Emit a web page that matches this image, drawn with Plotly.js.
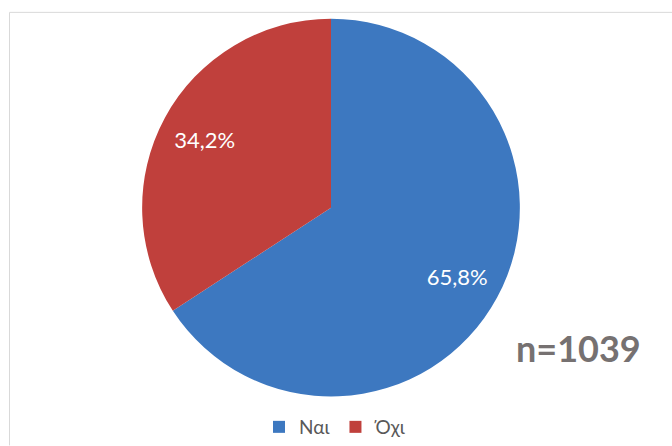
<!DOCTYPE html>
<html>
<head>
<meta charset="utf-8">
<script src="https://cdn.plot.ly/plotly-3.0.1.min.js"></script>
<style>html,body{margin:0;padding:0;background:#fff;}#chart{width:672px;height:446px;}</style>
</head>
<body>
<div id="chart"></div>
<script>
const categories = ["Ναι", "Όχι"];
const values = [65.8, 34.2];
const valueLabels = ["65,8%", "34,2%"];
const sampleNote = "n=1039";
const colors = ["#3d78c0", "#c0403c"];

const pieDomain = {x: [(331-191)/672, (331+191)/672], y: [(446-401)/446, (446-19)/446]};
const labelFont = {family: "Lato, 'Open Sans', sans-serif", size: 22, color: "#ffffff"};

const data = [{
  type: "pie",
  labels: categories,
  values: values,
  textinfo: "none",
  hoverinfo: "label+percent",
  sort: false,
  direction: "clockwise",
  rotation: 0,
  marker: {colors: colors, line: {width: 0}},
  domain: pieDomain
}, {
  type: "pie",
  labels: categories,
  values: values,
  text: valueLabels,
  texttemplate: "%{text}",
  textinfo: "text",
  textposition: "inside",
  insidetextorientation: "horizontal",
  hole: 0.52,
  showlegend: false,
  hoverinfo: "skip",
  sort: false,
  direction: "clockwise",
  rotation: 0,
  marker: {colors: ["rgba(0,0,0,0)", "rgba(0,0,0,0)"], line: {width: 0}},
  textfont: labelFont,
  domain: pieDomain
}];

const layout = {
  width: 672, height: 446,
  margin: {l: 0, r: 0, t: 0, b: 0},
  paper_bgcolor: "#ffffff",
  showlegend: true,
  legend: {
    orientation: "h", x: 0.5, xanchor: "center", y: 14/446, yanchor: "middle",
    font: {family: "Lato, 'Open Sans', sans-serif", size: 19, color: "#595959"},
    itemwidth: 30, traceorder: "normal"
  },
  shapes: [
    {type: "line", xref: "paper", yref: "paper", x0: 9.5/672, x1: 1.01, y0: (446-12.5)/446, y1: (446-12.5)/446, line: {color: "#d9d9d9", width: 1}},
    {type: "line", xref: "paper", yref: "paper", x0: 9.5/672, x1: 9.5/672, y0: -0.01, y1: (446-12.5)/446, line: {color: "#d9d9d9", width: 1}}
  ],
  annotations: [{
    xref: "paper", yref: "paper", x: 578/672, y: (446-352)/446,
    xanchor: "center", yanchor: "middle", showarrow: false,
    text: "<b>" + sampleNote + "</b>",
    font: {family: "Lato, 'Open Sans', sans-serif", size: 36, color: "#767171"}
  }]
};

Plotly.newPlot("chart", data, layout, {displayModeBar: false, staticPlot: true});
</script>
</body>
</html>
